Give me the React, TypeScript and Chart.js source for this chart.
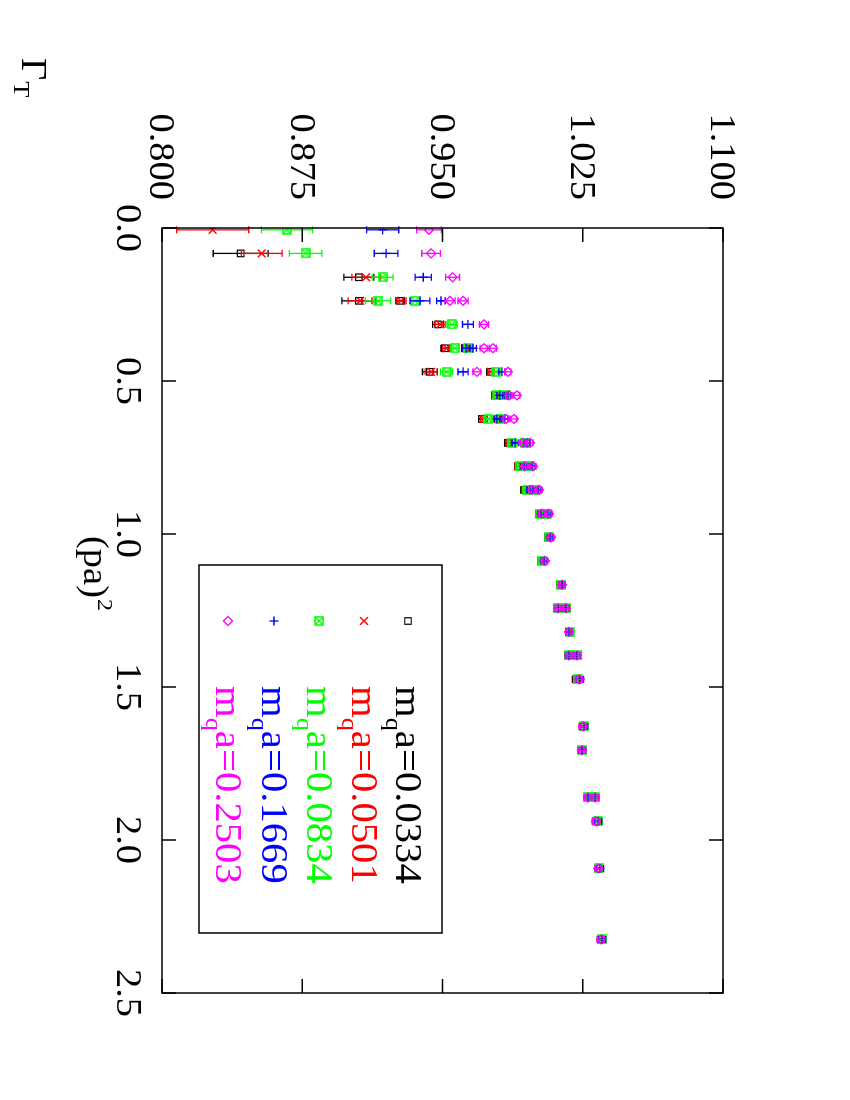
import React, { useEffect, useRef } from 'react';
import { Chart, registerables } from 'chart.js';
import { drawPoint } from 'chart.js/helpers';

Chart.register(...registerables);

// (pa)^2 values (rows; some rows hold two points per series)
const P2 = [0.006, 0.083, 0.161, 0.238, 0.238, 0.315, 0.393, 0.393, 0.470, 0.470,
  0.547, 0.547, 0.624, 0.624, 0.702, 0.702, 0.779, 0.779, 0.856, 0.856,
  0.934, 0.934, 1.011, 1.088, 1.166, 1.243, 1.243, 1.320, 1.397, 1.397,
  1.475, 1.629, 1.707, 1.861, 1.861, 1.939, 2.093, 2.325];

const G_0334 = [null, 0.8421, 0.9053, 0.9053, 0.9273, 0.9476, 0.9513, 0.9620, 0.9433, 0.9754,
  0.9781, 0.9834, 0.9711, 0.9797, 0.9850, 0.9936, 0.9904, 0.9963, 0.9936, 0.9995,
  1.0016, 1.0053, 1.0064, 1.0027, 1.0128, 1.0112, 1.0160, 1.0176, 1.0171, 1.0219,
  1.0214, 1.0251, 1.0246, 1.0278, 1.0316, 1.0321, 1.0332, 1.0348];
const E_0334 = [null, 0.0147, 0.0080, 0.0091, 0.0024, 0.0029, 0.0021, 0.0018, 0.0040, 0.0016,
  0.0016, 0.0016, 0.0018, 0.0016, 0.0016, 0.0016, 0.0016, 0.0016, 0.0016, 0.0016,
  0.0016, 0.0016, 0.0016, 0.0016, 0.0016, 0.0016, 0.0016, 0.0016, 0.0016, 0.0016,
  0.0019, 0.0019, 0.0019, 0.0019, 0.0019, 0.0019, 0.0019, 0.0019];

const G_0501 = [0.8271, 0.8533, 0.9091, 0.9059, 0.9278, 0.9487, 0.9522, 0.9626, 0.9439, 0.9759,
  0.9781, 0.9834, 0.9722, 0.9797, 0.9856, 0.9936, 0.9904, 0.9963, 0.9941, 0.9995,
  1.0016, 1.0053, 1.0064, 1.0027, 1.0128, 1.0112, 1.0166, 1.0176, 1.0176, 1.0225,
  1.0219, 1.0251, 1.0246, 1.0278, 1.0316, 1.0326, 1.0337, 1.0348];
const E_0501 = [0.0193, 0.0109, 0.0076, 0.0064, 0.0027, 0.0027, 0.0021, 0.0018, 0.0032, 0.0016,
  0.0016, 0.0016, 0.0018, 0.0016, 0.0016, 0.0016, 0.0016, 0.0016, 0.0016, 0.0016,
  0.0016, 0.0016, 0.0016, 0.0016, 0.0016, 0.0016, 0.0016, 0.0016, 0.0016, 0.0016,
  0.0019, 0.0019, 0.0019, 0.0019, 0.0019, 0.0019, 0.0019, 0.0019];

const G_0834 = [0.8668, 0.8768, 0.9180, 0.9155, 0.9353, 0.9551, 0.9567, 0.9636, 0.9522, 0.9786,
  0.9791, 0.9840, 0.9743, 0.9807, 0.9872, 0.9941, 0.9914, 0.9968, 0.9952, 1.0000,
  1.0021, 1.0059, 1.0070, 1.0032, 1.0134, 1.0118, 1.0160, 1.0182, 1.0176, 1.0219,
  1.0225, 1.0257, 1.0246, 1.0278, 1.0316, 1.0332, 1.0337, 1.0353];
const E_0834 = [0.0137, 0.0087, 0.0056, 0.0067, 0.0027, 0.0027, 0.0021, 0.0018, 0.0032, 0.0016,
  0.0016, 0.0016, 0.0018, 0.0016, 0.0016, 0.0016, 0.0016, 0.0016, 0.0016, 0.0016,
  0.0016, 0.0016, 0.0016, 0.0016, 0.0016, 0.0016, 0.0016, 0.0016, 0.0016, 0.0016,
  0.0019, 0.0019, 0.0019, 0.0019, 0.0019, 0.0019, 0.0019, 0.0019];

const G_1669 = [0.9180, 0.9198, 0.9397, 0.9380, 0.9492, 0.9636, 0.9626, 0.9663, 0.9610, 0.9818,
  0.9807, 0.9850, 0.9791, 0.9834, 0.9888, 0.9952, 0.9936, 0.9979, 0.9968, 1.0011,
  1.0027, 1.0064, 1.0075, 1.0043, 1.0139, 1.0118, 1.0160, 1.0176, 1.0176, 1.0219,
  1.0235, 1.0257, 1.0246, 1.0278, 1.0316, 1.0332, 1.0342, 1.0353];
const E_1669 = [0.0086, 0.0063, 0.0043, 0.0053, 0.0023, 0.0029, 0.0021, 0.0018, 0.0027, 0.0016,
  0.0016, 0.0016, 0.0016, 0.0016, 0.0016, 0.0016, 0.0016, 0.0016, 0.0016, 0.0016,
  0.0016, 0.0016, 0.0016, 0.0016, 0.0016, 0.0016, 0.0016, 0.0016, 0.0016, 0.0016,
  0.0019, 0.0019, 0.0019, 0.0019, 0.0019, 0.0019, 0.0019, 0.0019];

const G_2503 = [0.9428, 0.9439, 0.9554, 0.9540, 0.9610, 0.9722, 0.9722, 0.9770, 0.9684, 0.9850,
  0.9856, 0.9898, 0.9840, 0.9882, 0.9930, 0.9968, 0.9941, 0.9984, 0.9979, 1.0016,
  1.0032, 1.0070, 1.0080, 1.0048, 1.0139, 1.0118, 1.0160, 1.0176, 1.0176, 1.0219,
  1.0230, 1.0251, 1.0246, 1.0278, 1.0316, 1.0321, 1.0332, 1.0348];
const E_2503 = [0.0066, 0.0050, 0.0037, 0.0027, 0.0027, 0.0025, 0.0021, 0.0018, 0.0021, 0.0016,
  0.0016, 0.0016, 0.0016, 0.0016, 0.0016, 0.0016, 0.0016, 0.0016, 0.0016, 0.0016,
  0.0016, 0.0016, 0.0016, 0.0016, 0.0016, 0.0016, 0.0016, 0.0016, 0.0016, 0.0016,
  0.0019, 0.0019, 0.0019, 0.0019, 0.0019, 0.0019, 0.0019, 0.0019];

const MASS_LABELS = ['0.0334', '0.0501', '0.0834', '0.1669', '0.2503'];
const COLORS = ['#000000', '#ff0000', '#00ff00', '#0000ff', '#ff00ff'];
const X_TICKS = [0, 0.5, 1.0, 1.5, 2.0, 2.5];
const X_TICK_LABELS = ['0.0', '0.5', '1.0', '1.5', '2.0', '2.5'];
const Y_TICKS = [0.8, 0.875, 0.95, 1.025, 1.1];
const Y_TICK_LABELS = ['0.800', '0.875', '0.950', '1.025', '1.100'];

const W = 1100;
const H = 850;
const SX = 1.1; // horizontal text stretch
const FONT = "'Liberation Serif', 'Times New Roman', serif";

function makeBoxCross(color: string): HTMLCanvasElement {
  const c = document.createElement('canvas');
  c.width = 10; c.height = 10;
  const g = c.getContext('2d')!;
  g.strokeStyle = color;
  g.lineWidth = 1.6;
  g.strokeRect(1, 1, 8, 8);
  g.lineWidth = 1.1;
  g.beginPath();
  g.moveTo(2, 2); g.lineTo(8, 8);
  g.moveTo(8, 2); g.lineTo(2, 8);
  g.stroke();
  return c;
}

function stretched(ctx: CanvasRenderingContext2D, text: string, x: number, y: number,
  size: number, align: CanvasTextAlign, color = '#000'): number {
  ctx.save();
  ctx.font = `${size}px ${FONT}`;
  ctx.fillStyle = color;
  ctx.translate(x, y);
  ctx.scale(SX, 1);
  ctx.textAlign = align;
  ctx.textBaseline = 'alphabetic';
  ctx.fillText(text, 0, 0);
  const w = ctx.measureText(text).width * SX;
  ctx.restore();
  return w;
}

export default function App() {
  const ref = useRef<HTMLCanvasElement | null>(null);

  useEffect(() => {
    if (!ref.current) return;
    const gs = [G_0334, G_0501, G_0834, G_1669, G_2503];
    const es = [E_0334, E_0501, E_0834, E_1669, E_2503];
    const boxCross = makeBoxCross(COLORS[2]);
    const styles: any[] = [
      { pointStyle: 'rect', pointRadius: 4.6, pointBorderWidth: 1.2 },
      { pointStyle: 'crossRot', pointRadius: 5.5, pointBorderWidth: 1.4 },
      { pointStyle: boxCross, pointRadius: 5, pointBorderWidth: 1 },
      { pointStyle: 'cross', pointRadius: 4.5, pointBorderWidth: 1.3 },
      { pointStyle: 'rectRot', pointRadius: 4.5, pointBorderWidth: 1.3 },
    ];

    const datasets = gs.map((g, s) => {
      const data: any[] = [];
      P2.forEach((p, i) => {
        if (g[i] !== null && g[i] !== undefined) data.push({ x: p, y: g[i], e: es[s][i] });
      });
      return {
        label: 'm_q a=' + MASS_LABELS[s],
        data,
        showLine: false,
        borderColor: COLORS[s],
        backgroundColor: 'rgba(0,0,0,0)',
        pointBackgroundColor: 'rgba(0,0,0,0)',
        pointBorderColor: COLORS[s],
        order: 5 - s,
        ...styles[s],
      };
    });

    const errorBars = {
      id: 'errorBars',
      beforeDatasetDraw(chart: any, args: any) {
        const ds = chart.data.datasets[args.index];
        const xs = chart.scales.x, ys = chart.scales.y;
        const ctx = chart.ctx;
        ctx.save();
        ctx.strokeStyle = ds.borderColor;
        ctx.lineWidth = 1.3;
        ctx.beginPath();
        for (const d of ds.data) {
          const px = xs.getPixelForValue(d.x);
          const y1 = ys.getPixelForValue(d.y - d.e);
          const y2 = ys.getPixelForValue(d.y + d.e);
          ctx.moveTo(px, y1); ctx.lineTo(px, y2);
          ctx.moveTo(px - 3.5, y1); ctx.lineTo(px + 3.5, y1);
          ctx.moveTo(px - 3.5, y2); ctx.lineTo(px + 3.5, y2);
        }
        ctx.stroke();
        ctx.restore();
      },
    };

    const frame = {
      id: 'frame',
      afterDraw(chart: any) {
        const ctx = chart.ctx;
        const { left, right, top, bottom } = chart.chartArea;
        const xs = chart.scales.x, ys = chart.scales.y;
        ctx.save();
        ctx.strokeStyle = '#000';
        ctx.lineWidth = 1.5;
        ctx.strokeRect(left, top, right - left, bottom - top);
        ctx.beginPath();
        X_TICKS.forEach((t) => {
          const px = xs.getPixelForValue(t);
          ctx.moveTo(px, bottom); ctx.lineTo(px, bottom - 14);
          ctx.moveTo(px, top); ctx.lineTo(px, top + 14);
        });
        Y_TICKS.forEach((t) => {
          const py = ys.getPixelForValue(t);
          ctx.moveTo(left, py); ctx.lineTo(left + 14, py);
          ctx.moveTo(right, py); ctx.lineTo(right - 14, py);
        });
        ctx.stroke();

        // tick labels
        Y_TICKS.forEach((t, i) => {
          const py = ys.getPixelForValue(t);
          stretched(ctx, Y_TICK_LABELS[i], left - 28, py + 11.5, 35, 'right');
        });
        X_TICKS.forEach((t, i) => {
          const px = xs.getPixelForValue(t);
          stretched(ctx, X_TICK_LABELS[i], px, bottom + 45, 35, 'center');
        });

        // axis titles
        let x0 = 536;
        x0 += stretched(ctx, '(pa)', x0, 766, 35, 'left');
        stretched(ctx, '2', x0 + 1, 752, 22, 'left');
        let gx = 58;
        gx += stretched(ctx, '\u0393', gx, 828, 35, 'left');
        stretched(ctx, 'T', gx + 1, 836, 24, 'left');

        // legend
        const bx = 565, by = 408, bw = 368, bh = 243;
        ctx.lineWidth = 1.5;
        ctx.strokeStyle = '#000';
        ctx.strokeRect(bx, by, bw, bh);
        const rowsY = [442, 486, 531, 576, 622];
        chart.data.datasets.forEach((ds: any, s: number) => {
          const yy = rowsY[s];
          ctx.save();
          ctx.strokeStyle = ds.pointBorderColor;
          ctx.fillStyle = 'rgba(0,0,0,0)';
          ctx.lineWidth = ds.pointBorderWidth;
          drawPoint(ctx, { pointStyle: ds.pointStyle, radius: ds.pointRadius, rotation: 0, borderWidth: ds.pointBorderWidth }, 621, yy);
          ctx.restore();
          let tx = 686;
          tx += stretched(ctx, 'm', tx, yy + 12, 37, 'left', COLORS[s]);
          tx += stretched(ctx, 'q', tx, yy + 22, 24, 'left', COLORS[s]);
          stretched(ctx, 'a=' + MASS_LABELS[s], tx, yy + 12, 37, 'left', COLORS[s]);
        });
        ctx.restore();
      },
    };

    const chart = new Chart(ref.current, {
      type: 'scatter',
      data: { datasets },
      options: {
        responsive: false,
        animation: false,
        devicePixelRatio: 1,
        layout: { padding: { left: 228, top: 127, right: W - 993, bottom: H - 688 } },
        plugins: { legend: { display: false }, tooltip: { enabled: false } },
        events: [],
        scales: {
          x: { type: 'linear', min: 0, max: 2.5, display: false },
          y: { type: 'linear', min: 0.8, max: 1.1, display: false },
        },
      },
      plugins: [errorBars, frame],
    } as any);
    return () => chart.destroy();
  }, []);

  return (
    <div style={{ position: 'fixed', left: 0, top: 0, width: 850, height: 1100, overflow: 'hidden', background: '#fff' }}>
      <div style={{ position: 'absolute', left: 0, top: 0, width: W, height: H, transformOrigin: '0 0', transform: 'translate(850px, 0px) rotate(90deg)' }}>
        <canvas ref={ref} width={W} height={H} style={{ width: W, height: H, display: 'block' }} />
      </div>
    </div>
  );
}
